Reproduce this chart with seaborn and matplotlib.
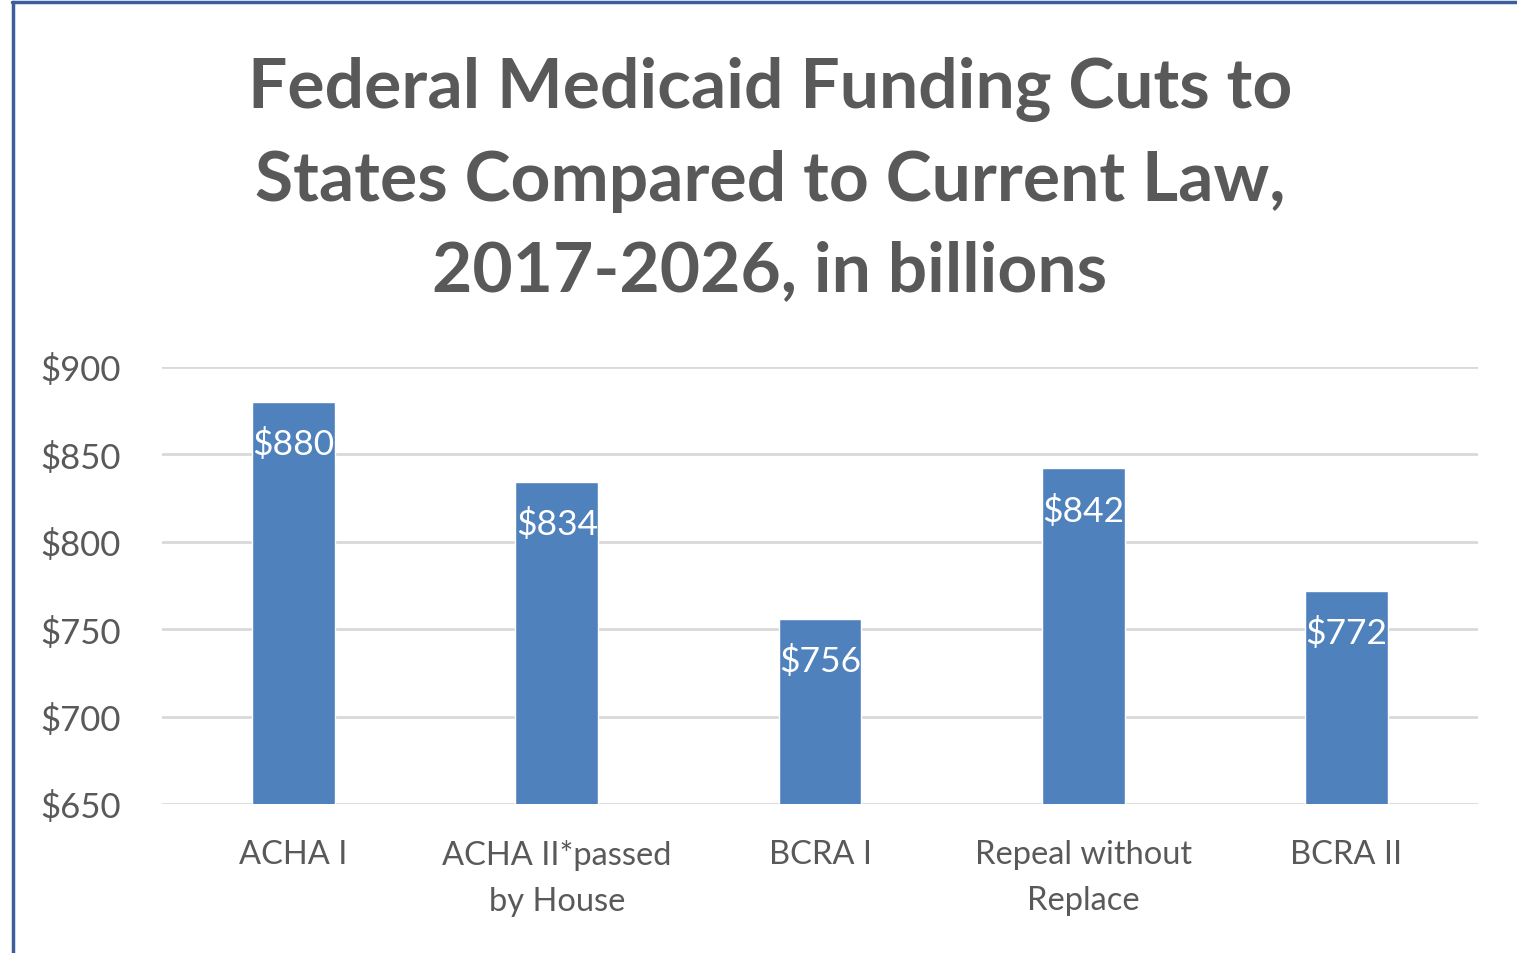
import matplotlib
matplotlib.use("Agg")
import matplotlib.pyplot as plt
import seaborn as sns
import pandas as pd

# data
bills = ["ACHA I", "ACHA II*passed\nby House", "BCRA I", "Repeal without\nReplace", "BCRA II"]
cuts = [880, 834, 756, 842, 772]
yticks = [650, 700, 750, 800, 850, 900]

sns.set_theme(style="white")
plt.rcParams['font.family'] = ['Lato', 'DejaVu Sans']

grey = "#595959"
blue = "#4F81BD"

df = pd.DataFrame({"bill": bills, "cut": cuts})

fig = plt.figure(figsize=(15.17, 9.54), dpi=100)
ax = fig.add_axes([0.1068, 0.1562, 0.8675, 0.4581])

sns.barplot(data=df, x="bill", y="cut", color=blue, width=0.315,
            saturation=1, ax=ax, zorder=3)

ax.set_ylim(650, 900)
ax.set_xlim(-0.5, 4.5)
ax.set_yticks(yticks)
ax.set_yticklabels([f"${v}" for v in yticks])
ax.set_xlabel("")
ax.set_ylabel("")
ax.grid(axis="y", color="#D9D9D9", linewidth=2, zorder=0)
for s in ax.spines.values():
    s.set_visible(False)
ax.tick_params(axis="y", length=0, pad=29.5, labelsize=25, labelcolor=grey)
ax.tick_params(axis="x", length=0, pad=25.5, labelsize=23.5, labelcolor=grey)
for lbl in ax.get_xticklabels():
    lbl.set_linespacing(1.65)

for i, v in enumerate(cuts):
    ax.annotate(f"${v}", (i, v), xytext=(0, -30), textcoords="offset points",
                ha="center", va="center", color="white", fontsize=25.5, zorder=4)

fig.text(0.5076, 0.811,
         "Federal Medicaid Funding Cuts to\nStates Compared to Current Law,\n2017-2026, in billions",
         ha="center", va="center", fontsize=50, fontweight="bold", color=grey,
         linespacing=1.54)

# frame on the left and top edge
fig.add_artist(plt.Line2D([13 / 1517, 13 / 1517], [0, 951 / 954], color="#3B5F9B",
                          linewidth=2.5, transform=fig.transFigure))
fig.add_artist(plt.Line2D([12 / 1517, 1], [951 / 954, 951 / 954], color="#3B5F9B",
                          linewidth=2.5, transform=fig.transFigure))

fig.savefig("out.png", dpi=100)
